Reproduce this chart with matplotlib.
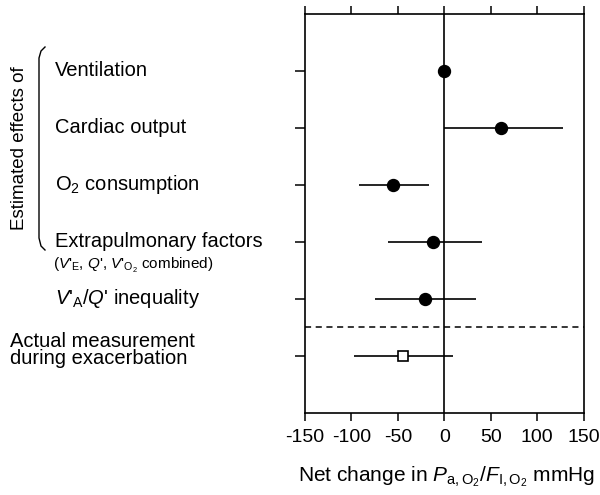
import matplotlib.pyplot as plt
import matplotlib.transforms as mtransforms
import numpy as np

plt.rcParams['font.family'] = ['Liberation Sans', 'DejaVu Sans']
plt.rcParams['mathtext.fontset'] = 'custom'
plt.rcParams['mathtext.rm'] = 'Liberation Sans'
plt.rcParams['mathtext.it'] = 'Liberation Sans:italic'

labels = ['Ventilation', 'Cardiac output', 'O$_2$ consumption',
          'Extrapulmonary factors', "$\\mathit{V}$'$_\\mathrm{A}$/$\\mathit{Q}$' inequality",
          'Actual measurement\nduring exacerbation']
est = [0, 61, -55.5, -12.5, -21, -44.5]
lo = [0, 0, -92, -61, -74, -97]
hi = [0, 128, -16, 41, 34, 9.5]
xticks = [-150, -100, -50, 0, 50, 100, 150]

fig = plt.figure(figsize=(6, 4.95), dpi=100)
ax = fig.add_axes([0.508, 0.166, 0.465, 0.806])

y = np.arange(len(est))
est = np.array(est)
err = [est - np.array(lo), np.array(hi) - est]

ax.axvline(0, color='black', lw=1.2, zorder=1)
ax.axhline(4.5, color='black', lw=1.1, ls=(0, (4, 3)), zorder=1)
ax.errorbar(est[:5], y[:5], xerr=[err[0][:5], err[1][:5]], fmt='o', color='black',
            ms=8.6, elinewidth=1.2, capsize=0, zorder=3)
ax.errorbar(est[5:], y[5:], xerr=[err[0][5:], err[1][5:]], fmt='s', mfc='white', mec='black',
            color='black', ms=7, mew=1.2, elinewidth=1.2, capsize=0, zorder=3)

ax.set_xlim(-150, 150)
ax.set_ylim(6, -1)
ax.set_xticks(xticks)
ax.set_xticklabels([str(v) for v in xticks], fontsize=14)
ax.set_yticks(y)
ax.set_yticklabels([])
ax.tick_params(axis='x', top=True, direction='out', length=6, width=1.1, pad=6)
ax.tick_params(axis='y', direction='out', length=7, width=1.1)
for s in ax.spines.values():
    s.set_linewidth(1.2)

fig.text(595 / 600, 1 - 477 / 495,
         r'Net change in $\mathit{P}$$_\mathrm{a,O_2}$/$\mathit{F}$$_\mathrm{I,O_2}$ mmHg',
         fontsize=15, ha='right', va='center')

blend = mtransforms.blended_transform_factory(fig.transFigure, ax.transData)
for i, lab in enumerate(labels):
    if i < 5:
        ax.text(55 / 600, i, lab, transform=blend, fontsize=14.5, ha='left', va='center')
    else:
        ax.text(10 / 600, i - 0.1, lab, transform=blend, fontsize=14.5, ha='left', va='center',
                linespacing=0.88)
ax.text(53 / 600, 3.42, "($\\mathit{V}$'$_\\mathrm{E}$, $\\mathit{Q}$', $\\mathit{V}$'$_\\mathrm{O_2}$ combined)",
        transform=blend, fontsize=11, ha='left', va='center')

fig.text(20 / 600, 1 - 148 / 495, 'Estimated effects of', rotation=90, fontsize=13.5,
         ha='center', va='center')

# bracket
bx = np.array([45, 41, 39, 39, 41, 45]) / 600
by = 1 - np.array([47, 51, 58, 238, 246, 250]) / 495
fig.add_artist(plt.Line2D(bx, by, color='black', lw=1.0, transform=fig.transFigure))

fig.savefig('out.png', dpi=100)
